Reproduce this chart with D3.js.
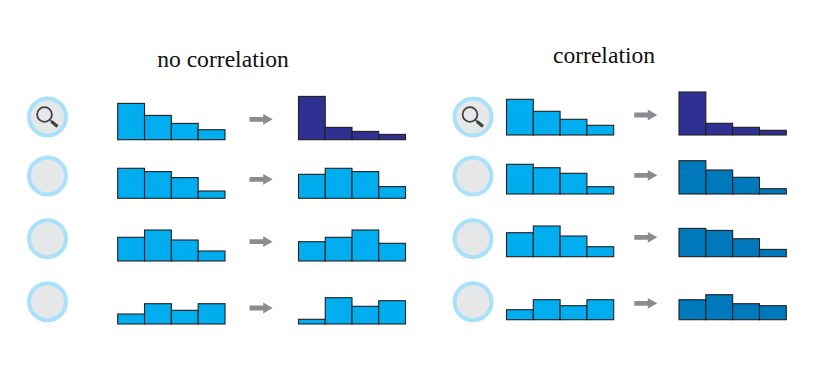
<!DOCTYPE html>
<html>
<head>
<meta charset="utf-8">
<script src="https://cdn.jsdelivr.net/npm/d3@7"></script>
<style>html,body{margin:0;padding:0;background:#fff}svg{display:block}</style>
</head>
<body>
<svg id="c" width="832" height="373"></svg>
<script>
const bins = ["a","b","c","d"];
const panelTitles = ["no correlation","correlation"];

const noCorrBefore = [[36.3,24.3,16.3,10],[30,26.7,20.7,7.3],[23.7,31,21,10],[10,20.3,13.7,20.3]];
const noCorrAfter  = [[43.3,12.3,8.3,5.3],[24,30,26.7,11.7],[19.3,23.7,31,17.7],[4.7,26.3,17.7,23.3]];
const corrBefore   = [[35.7,23.7,15.7,9.7],[29.7,26.3,20.7,7.3],[24,30.7,20.7,10],[10,20,14,20]];
const corrAfter    = [[43,11.7,7.7,4.7],[33.3,24,16.7,5.3],[28.3,26.3,18,7.3],[20,25,16,14]];

const BLUE="#00aeef", NAVY="#2e3192", TEAL="#0079bc";
const panels = [
  {title:panelTitles[0], tx:223, ty:67, cx:47.5, cy:[117,176,238.7,301.7],
   bx:[117.7,225], ax:[298.5,405.5], base:[139.7,198.3,261,324],
   before:noCorrBefore, after:noCorrAfter,
   afterColor:[NAVY,BLUE,BLUE,BLUE],
   arrow:[249.5,272.7], arrowY:[119.3,179.3,241.7,308]},
  {title:panelTitles[1], tx:604, ty:63, cx:473, cy:[117,176,238.7,301.7],
   bx:[506.5,613.7], ax:[679,786.3], base:[135,194,256.7,319.7],
   before:corrBefore, after:corrAfter,
   afterColor:[NAVY,TEAL,TEAL,TEAL],
   arrow:[634.3,657.3], arrowY:[115,175.3,237.3,303.3]}
];

const svg = d3.select("#c");
const y = d3.scaleLinear().domain([0,50]).range([0,50]);

function hist(g, vals, xr, base, color){
  const x = d3.scaleBand().domain(bins).range(xr);
  g.append("g").selectAll("rect").data(vals).join("rect")
    .attr("x",(d,i)=>x(bins[i]))
    .attr("y",d=>base-y(d))
    .attr("width",x.bandwidth())
    .attr("height",d=>y(d))
    .attr("fill",color)
    .attr("stroke","#231f20")
    .attr("stroke-width",1.1);
}

panels.forEach(p=>{
  const g = svg.append("g");
  g.append("text").text(p.title)
    .attr("x",p.tx).attr("y",p.ty)
    .attr("text-anchor","middle")
    .attr("font-family","'Liberation Serif',serif")
    .attr("font-size",23.6).attr("fill","#111");
  p.cy.forEach((cy,r)=>{
    g.append("circle").attr("cx",p.cx).attr("cy",cy).attr("r",18.5)
      .attr("fill","#e6e7e8").attr("stroke","#a8e2fa").attr("stroke-width",4);
    if(r===0){
      const lx=p.cx-3, ly=cy-2.5;
      g.append("circle").attr("cx",lx).attr("cy",ly).attr("r",7.4)
        .attr("fill","none").attr("stroke","#414042").attr("stroke-width",1.8);
      g.append("line").attr("x1",lx+5.5).attr("y1",ly+5.5).attr("x2",lx+7.5).attr("y2",ly+7.5)
        .attr("stroke","#414042").attr("stroke-width",1.5);
      g.append("line").attr("x1",lx+7).attr("y1",ly+7).attr("x2",lx+13).attr("y2",ly+12)
        .attr("stroke","#414042").attr("stroke-width",3.2);
    }
    hist(g,p.before[r],p.bx,p.base[r],BLUE);
    hist(g,p.after[r],p.ax,p.base[r],p.afterColor[r]);
    const [a0,a1]=p.arrow, ay=p.arrowY[r];
    const line=d3.line();
    g.append("path").attr("d",line([[a0,ay-2.4],[a1-9.5,ay-2.4],[a1-9.5,ay-5.4],[a1,ay],[a1-9.5,ay+5.4],[a1-9.5,ay+2.4],[a0,ay+2.4]])+"Z")
      .attr("fill","#8a8c8e");
  });
});
</script>
</body>
</html>
